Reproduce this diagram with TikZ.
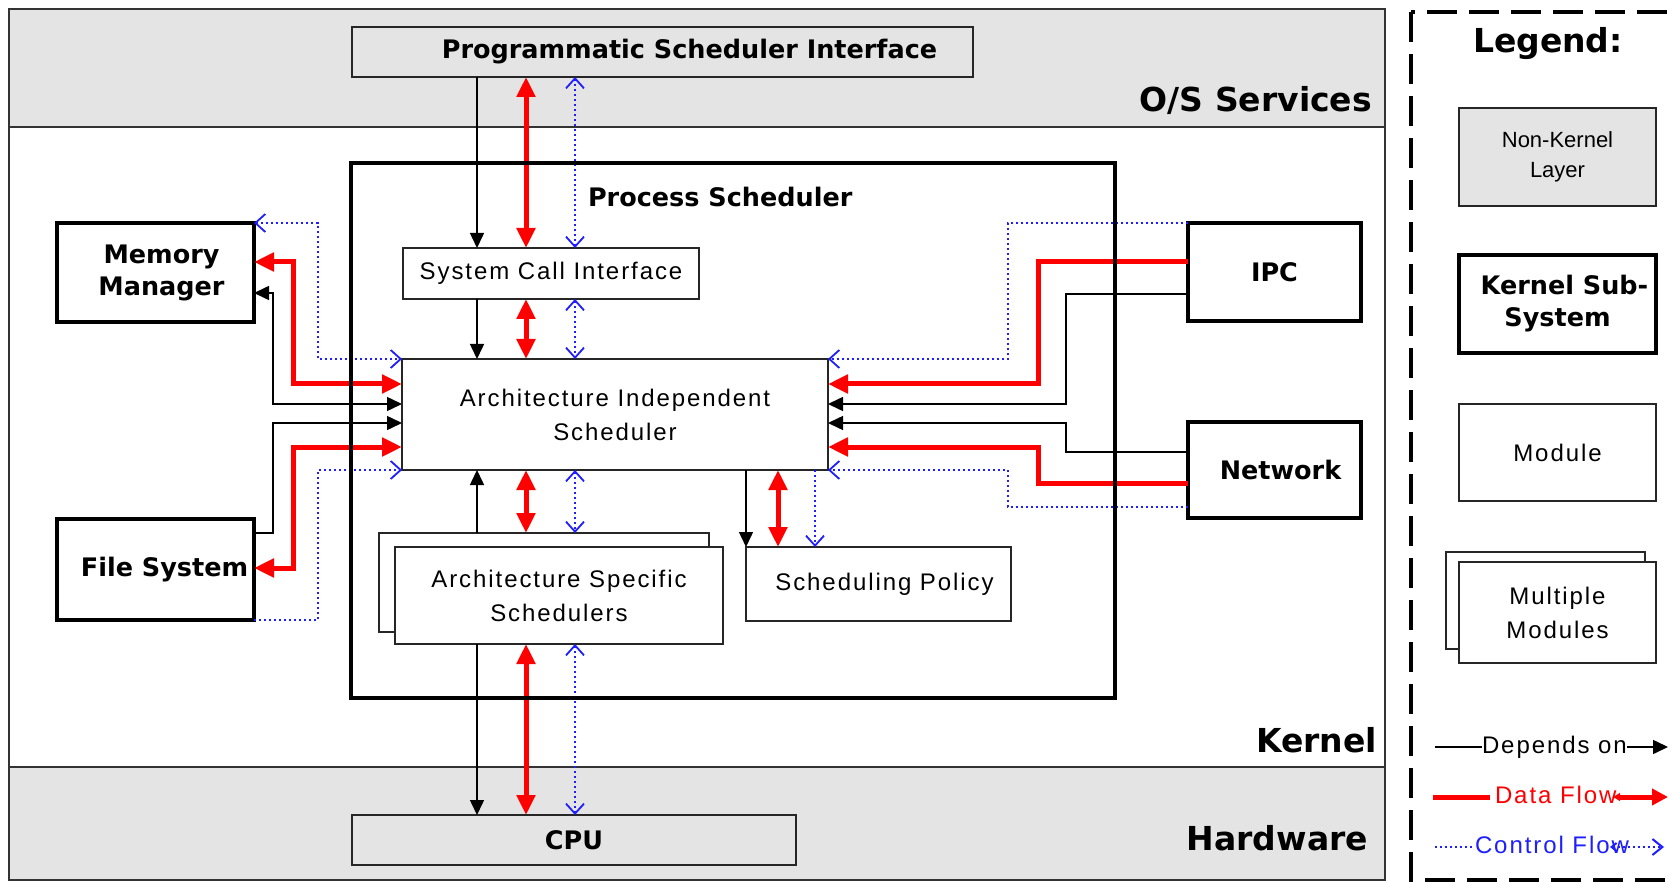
\documentclass[tikz,border=0pt]{standalone}
\usepackage{fontspec}
\usetikzlibrary{arrows.meta}
\newfontfamily\dejavu{DejaVu Sans}
\newfontfamily\regfnt[LetterSpace=8]{Liberation Sans}
\newfontfamily\plainfnt{Liberation Sans}
\definecolor{bandgray}{RGB}{228,228,228}
\definecolor{ctlblue}{RGB}{30,30,255}
\newcommand\LblBig{\dejavu\bfseries\fontsize{33}{38}\selectfont}
\newcommand\LblMid{\dejavu\bfseries\fontsize{25.5}{32}\selectfont}
\newcommand\LblReg{\regfnt\fontsize{24}{34}\selectfont}
\newcommand\LblSmall{\plainfnt\fontsize{22}{30}\selectfont}
\begin{document}
\begin{tikzpicture}[x=1pt,y=-1pt,
  every node/.style={inner sep=0pt, outer sep=0pt},
  thickbox/.style={draw=black, line width=4pt, fill=white, align=center, font=\LblMid},
  thinbox/.style={draw=black!85, line width=1.5pt, fill=white, align=center, font=\LblReg},
  graybox/.style={draw=black!85, line width=2pt, fill=bandgray, align=center, font=\LblMid},
  psbox/.style={draw=black, line width=4pt},
  dep/.style={draw=black, line width=1.5pt, >={Triangle[length=15pt,width=14pt]}},
  dat/.style={draw=red, line width=5pt, >={Triangle[length=20pt,width=18pt]}},
  ctl/.style={draw=ctlblue, line width=2pt, dash pattern=on 2pt off 3pt, >={Straight Barb[length=10pt,width=18pt,line width=1.8pt]}},
  title/.style={font=\LblBig},
  lgtext/.style={font=\LblReg, anchor=base west}
]
\useasboundingbox (0,0) rectangle (1676,882);
\fill[white] (0,0) rectangle (1676,882);

% layers
\fill[bandgray] (9,9) rectangle (1385,127);
\fill[bandgray] (9,767) rectangle (1385,880);
\draw[black!80, line width=1.5pt] (9,9) rectangle (1385,880);
\draw[black!80, line width=1.5pt] (9,127) -- (1385,127);
\draw[black!80, line width=1.5pt] (9,767) -- (1385,767);
\node[title, anchor=base east] (los) at (1372,112) {O/S Services};
\node[title, anchor=base east] (lker) at (1377,752) {Kernel};
\node[title, anchor=base east] (lhw) at (1368,850) {Hardware};

% boxes
\node[graybox, anchor=north west, minimum width=621, minimum height=50] (psi) at (352,27) {\hspace*{54pt}Programmatic Scheduler Interface};
\node[thinbox, anchor=north west, minimum width=296, minimum height=51] (sci) at (403,248) {System Call Interface};
\node[thinbox, anchor=north west, minimum width=426, minimum height=111] (ais) at (402,359) {Architecture Independent\\Scheduler};
\node[thickbox, anchor=north west, minimum width=197, minimum height=99] (mm) at (57,223) {\hspace*{12pt}Memory\\\hspace*{12pt}Manager};
\node[thickbox, anchor=north west, minimum width=197, minimum height=101] (fs) at (57,519) {\hspace*{18pt}File System};
\node[thickbox, anchor=north west, minimum width=173, minimum height=98] (ipc) at (1188,223) {IPC};
\node[thickbox, anchor=north west, minimum width=173, minimum height=96] (net) at (1188,422) {\hspace*{12pt}Network};
\node[thinbox, anchor=north west, minimum width=330, minimum height=99] (assback) at (379,533) {};
\node[thinbox, anchor=north west, minimum width=328, minimum height=97] (ass) at (395,547) {Architecture Specific\\Schedulers};
\node[thinbox, anchor=north west, minimum width=265, minimum height=74] (sp) at (746,547) {\hspace*{12pt}Scheduling Policy};
\node[graybox, anchor=north west, minimum width=444, minimum height=50] (cpu) at (352,815) {CPU};

% left connectors
\draw[ctl, <->] (mm.north east) -- ++(64,0) |- (ais.north west);
\draw[dat, <->] ([yshift=-39pt]mm.north east) -- ++(39,0) |- ([yshift=-25pt]ais.north west);
\draw[dep, <->] ([yshift=-70pt]mm.north east) -- ++(19,0) |- ([yshift=-45pt]ais.north west);
\draw[dep, ->] ([yshift=-14pt]fs.north east) -- ++(19,0) |- ([yshift=-64pt]ais.north west);
\draw[dat, <->] ([yshift=-49pt]fs.north east) -- ++(39,0) |- ([yshift=-88pt]ais.north west);
\draw[ctl, ->] (fs.south east) -- ++(64,0) |- (ais.south west);

% right connectors
\draw[ctl, ->] (ipc.north west) -- ++(-180,0) |- (ais.north east);
\draw[dat, ->] ([yshift=-39pt]ipc.north west) -- ++(-150,0) |- ([yshift=-25pt]ais.north east);
\draw[dep, ->] ([yshift=-71pt]ipc.north west) -- ++(-122,0) |- ([yshift=-45pt]ais.north east);
\draw[dep, ->] ([yshift=-30pt]net.north west) -- ++(-122,0) |- ([yshift=-64pt]ais.north east);
\draw[dat, ->] ([yshift=-61pt]net.north west) -- ++(-150,0) |- ([yshift=-88pt]ais.north east);
\draw[ctl, ->] ([yshift=-85pt]net.north west) -- ++(-180,0) |- (ais.south east);

% vertical connectors
\draw[dep, ->] ([xshift=125pt]psi.south west) -- ([xshift=74pt]sci.north west);
\draw[dat, <->] ([xshift=174pt]psi.south west) -- ([xshift=123pt]sci.north west);
\draw[ctl, <->] ([xshift=223pt]psi.south west) -- ([xshift=172pt]sci.north west);
\draw[dep, ->] ([xshift=74pt]sci.south west) -- ([xshift=75pt]ais.north west);
\draw[dat, <->] ([xshift=123pt]sci.south west) -- ([xshift=124pt]ais.north west);
\draw[ctl, <->] ([xshift=172pt]sci.south west) -- ([xshift=173pt]ais.north west);
\draw[dep, ->] ([xshift=98pt]assback.north west) -- ([xshift=75pt]ais.south west);
\draw[dat, <->] ([xshift=124pt]ais.south west) -- ([xshift=147pt]assback.north west);
\draw[ctl, <->] ([xshift=173pt]ais.south west) -- ([xshift=196pt]assback.north west);
\draw[dep, ->] ([xshift=344pt]ais.south west) -- (sp.north west);
\draw[dat, <->] ([xshift=376pt]ais.south west) -- ([xshift=32pt]sp.north west);
\draw[ctl, ->] ([xshift=413pt]ais.south west) -- ([xshift=69pt]sp.north west);
\draw[dep, ->] ([xshift=82pt]ass.south west) -- ([xshift=125pt]cpu.north west);
\draw[dat, <->] ([xshift=131pt]ass.south west) -- ([xshift=174pt]cpu.north west);
\draw[ctl, <->] ([xshift=180pt]ass.south west) -- ([xshift=223pt]cpu.north west);

% process scheduler frame
\node[psbox, anchor=north west, minimum width=764, minimum height=535] (ps) at (351,163) {};
\node[font=\LblMid, anchor=base west] (pslabel) at (588,207) {Process Scheduler};

% legend
\begin{scope}
\clip (0,0) rectangle (1676,882);
\draw[black, line width=4pt, dash pattern=on 30pt off 12pt] (1411,12) rectangle (1700,880);
\end{scope}
\node[title, anchor=base west] (lgtitle) at (1473,53) {Legend:};
\node[graybox, font=\LblSmall, anchor=north west, minimum width=197, minimum height=98] (lnk) at (1459,108) {Non-Kernel\\Layer};
\node[thickbox, anchor=north west, minimum width=197, minimum height=98] (lks) at (1459,255) {\hspace*{14pt}Kernel Sub-\\System};
\node[thinbox, anchor=north west, minimum width=197, minimum height=97] (lmod) at (1459,404) {Module};
\node[thinbox, anchor=north west, minimum width=199, minimum height=97] (lmmback) at (1446,552) {};
\node[thinbox, anchor=north west, minimum width=197, minimum height=101] (lmm) at (1459,562) {Multiple\\Modules};

\node[lgtext] (ldep) at (1482,753) {Depends on};
\draw[dep] (1435,747) -- (ldep.west |- 0,747);
\draw[dep, ->] (1627,747) -- (1668,747);
\node[lgtext, text=red] (ldat) at (1495,803) {Data Flow};
\draw[dat] (1433,797) -- (1490,797);
\draw[dat, {Latex[length=8pt,width=9pt]}-{Triangle[length=16pt,width=16pt]}] (1612,797) -- (1668,797);
\node[lgtext, text=ctlblue] (lctl) at (1475,853) {Control Flow};
\draw[ctl] (1435,847) -- (1472,847);
\draw[ctl, {Straight Barb[length=5pt,width=8pt]}-{Straight Barb[length=10pt,width=16pt]}] (1610,847) -- (1664,847);
\end{tikzpicture}
\end{document}
